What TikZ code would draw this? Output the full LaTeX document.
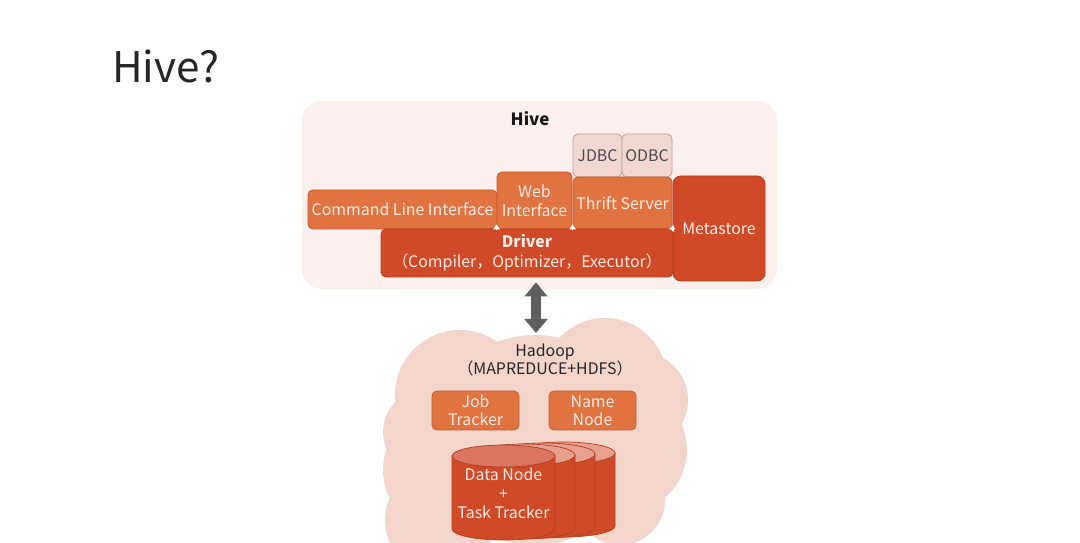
\documentclass[tikz,border=0pt]{standalone}
\usepackage{fontspec}
\setmainfont{Noto Sans CJK SC}
\usetikzlibrary{arrows.meta}

\newdimen\px \px=0.025cm

\definecolor{panelbg}{HTML}{FCF0EE}
\definecolor{cloudbg}{HTML}{F4D5CC}
\definecolor{boxfill}{HTML}{E0733F}
\definecolor{boxline}{HTML}{C85A30}
\definecolor{darkfill}{HTML}{D04A27}
\definecolor{darkline}{HTML}{B43D1E}
\definecolor{connfill}{HTML}{F0D8D1}
\definecolor{connline}{HTML}{BFA39B}
\definecolor{boxtext}{HTML}{FCEBE4}
\definecolor{arrowgray}{HTML}{5E5E5E}
\definecolor{cyltop}{HTML}{DB7560}
\definecolor{cylback}{HTML}{E8A08E}

\tikzset{
  box/.style={draw=boxline, line width=0.6pt, fill=boxfill, rounded corners=5\px,
    inner sep=0pt, text=boxtext, align=center, font=\fontsize{11.3}{13.5}\selectfont},
  darkbox/.style={box, fill=darkfill, draw=darkline},
  connbox/.style={box, fill=connfill, draw=connline, text=black!70},
  wtip/.style={white, line width=0.5pt, -{Triangle[width=4.5pt,length=3.5pt]}},
  fatarrow/.style={arrowgray, line width=7pt,
    {Triangle[width=16pt,length=10pt]}-{Triangle[width=16pt,length=10pt]}}
}

\begin{document}
\begin{tikzpicture}[x=0.025cm, y=-0.025cm]
  \useasboundingbox[fill=white] (0,0) rectangle (1080,543);

  % title
  \node[anchor=base west, inner sep=0pt, text=black!85,
    font=\fontsize{30}{30}\selectfont] (title) at (112,83) {Hive?};

  % Hive panel
  \fill[panelbg, rounded corners=20\px] (302,101) rectangle (777,289);
  \node[font=\bfseries\fontsize{12}{14}\selectfont, text=black!90] (hivelbl) at (530,119) {Hive};

  \node[connbox, minimum width=49\px, minimum height=43\px] (jdbc) at (597.5,155.5) {JDBC};
  \node[connbox, minimum width=50\px, minimum height=43\px] (odbc) at (647,155.5) {ODBC};

  \node[box, minimum width=189\px, minimum height=39\px] (cli) at (402.5,209.5) {Command Line Interface};
  \node[box, minimum width=75\px, minimum height=57\px] (web) at (534.5,200.5) {Web\\Interface};
  \node[box, minimum width=99\px, minimum height=52\px] (thrift) at (622.5,203) {Thrift Server};
  \node[darkbox, rounded corners=8\px, minimum width=92\px, minimum height=105\px] (meta) at (719,228.5) {Metastore};
  \node[darkbox, minimum width=292\px, minimum height=48\px, font=\fontsize{11.3}{14}\selectfont]
    (drv) at (527,253) {\textbf{Driver}\\（Compiler，Optimizer，Executor）};

  % small tips into the driver
  \draw[wtip] ([yshift=-1pt]drv.north -| web.west) -- ([yshift=3pt]drv.north -| web.west);
  \draw[wtip] ([yshift=-1pt]drv.north -| thrift.west) -- ([yshift=3pt]drv.north -| thrift.west);
  \draw[wtip] ([xshift=1pt]drv.north east) -- ([xshift=-3pt]drv.north east);

  % Hadoop cloud
  \fill[cloudbg] (460,395) circle (65) (605,380) circle (62) (640,400) circle (48)
    (535,440) circle (105) (445,470) circle (62) (625,450) circle (62)
    (425,432) circle (42) (440,520) circle (55) (620,500) circle (45);

  \coordinate (cloudtop) at (536,333);
  \draw[fatarrow, shorten <=5\px] (drv.south -| cloudtop) -- (cloudtop);

  \node[align=center, text=black!85, font=\fontsize{11.3}{12.8}\selectfont]
    (hadoop) at (545,360) {Hadoop\\（MAPREDUCE+HDFS）};

  \node[box, minimum width=87\px, minimum height=39\px, font=\fontsize{11.3}{12.8}\selectfont]
    (job) at (475.5,410.5) {Job\\Tracker};
  \node[box, minimum width=87\px, minimum height=39\px, font=\fontsize{11.3}{12.8}\selectfont]
    (name) at (592.5,410.5) {Name\\Node};

  % data node cylinders, back to front
  \foreach \dx/\dy/\top in {60/-3/cylback, 40/-2/cylback, 20/-1/cylback, 0/0/cyltop} {
    \filldraw[fill=darkfill, draw=darkline, line width=0.5pt]
      (452+\dx,456+\dy) -- (452+\dx,529+\dy)
      arc[start angle=180, end angle=0, x radius=51.5, y radius=11]
      -- (555+\dx,456+\dy) -- cycle;
    \filldraw[fill=\top, draw=darkline, line width=0.5pt]
      (503.5+\dx,456+\dy) ellipse[x radius=51.5, y radius=11];
  }
  \node[align=center, text=boxtext, font=\fontsize{11.3}{13.5}\selectfont]
    (data) at (503.5,493) {Data Node\\+\\Task Tracker};
\end{tikzpicture}
\end{document}
